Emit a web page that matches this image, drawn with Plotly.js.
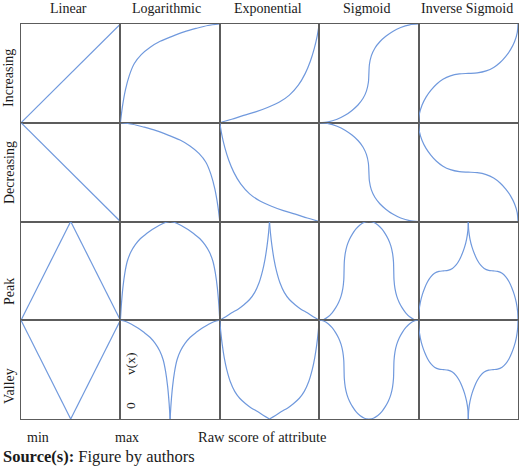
<!DOCTYPE html>
<html>
<head>
<meta charset="utf-8">
<script src="https://cdn.plot.ly/plotly-3.0.1.min.js"></script>
<style>html,body{margin:0;padding:0;background:#fff;}#chart{width:520px;height:469px;}</style>
</head>
<body>
<div id="chart"></div>
<script>
// Column (curve type) and row (direction) labels
const columnLabels = ["Linear", "Logarithmic", "Exponential", "Sigmoid", "Inverse Sigmoid"];
const rowLabels = ["Increasing", "Decreasing", "Peak", "Valley"];

// Base "increasing" shapes (normalised 0..1 within a cell)
const linearX = [0, 1];
const linearY = [0, 1];
const logX = [0, 0.02, 0.05, 0.09, 0.14, 0.21, 0.3, 0.4, 0.52, 0.64, 0.76, 0.88, 1];
const logY = [0, 0.16, 0.33, 0.48, 0.6, 0.69, 0.765, 0.825, 0.875, 0.92, 0.955, 0.985, 1];
const expX = [0, 0.12, 0.24, 0.36, 0.48, 0.6, 0.7, 0.79, 0.86, 0.91, 0.95, 0.98, 1];
const expY = [0, 0.035, 0.075, 0.11, 0.155, 0.21, 0.28, 0.38, 0.5, 0.62, 0.75, 0.88, 1];
const sigX = [0, 0.09, 0.18, 0.26, 0.33, 0.39, 0.44, 0.475, 0.495, 0.5, 0.505, 0.525, 0.56, 0.61, 0.67, 0.74, 0.82, 0.91, 1];
const sigY = [0, 0.008, 0.035, 0.075, 0.125, 0.18, 0.245, 0.32, 0.41, 0.5, 0.59, 0.68, 0.755, 0.82, 0.875, 0.925, 0.965, 0.992, 1];
const invSigX = [0, 0.008, 0.035, 0.075, 0.125, 0.18, 0.245, 0.32, 0.41, 0.5, 0.59, 0.68, 0.755, 0.82, 0.875, 0.925, 0.965, 0.992, 1];
const invSigY = [0, 0.09, 0.18, 0.26, 0.33, 0.39, 0.44, 0.475, 0.495, 0.5, 0.505, 0.525, 0.56, 0.61, 0.67, 0.74, 0.82, 0.91, 1];

const shapes = [[linearX, linearY], [logX, logY], [expX, expY], [sigX, sigY], [invSigX, invSigY]];

const bottomLabels = ["min", "max", "Raw score of attribute"];
const axisNote = ["v(x)", "0"];
const sourceBold = "Source(s):";
const sourceText = " Figure by authors";

const LINE = "#7099dd";
const BORDER = "#5c5c5c";
const FONT = "Liberation Serif";

const W = 520, H = 469;
const M = {l: 21, r: 2, t: 24, b: 50};
const pw = W - M.l - M.r, ph = H - M.t - M.b;
const px = x => (x - M.l) / pw;
const py = y => (H - M.b - y) / ph;

const traces = [];
const layout = {
  width: W, height: H,
  margin: M,
  paper_bgcolor: "#fff", plot_bgcolor: "#fff",
  showlegend: false,
  grid: {rows: 4, columns: 5, pattern: "independent", xgap: 0, ygap: 0, roworder: "top to bottom"},
  font: {family: FONT, size: 14, color: "#1a1a1a"},
  annotations: []
};

function addLine(k, xs, ys) {
  const id = k === 1 ? "" : String(k);
  traces.push({
    type: "scatter", mode: "lines", x: xs, y: ys,
    xaxis: "x" + id, yaxis: "y" + id,
    line: {color: LINE, width: 1.2, shape: xs.length > 2 ? "spline" : "linear", smoothing: 0.8},
    cliponaxis: false, hoverinfo: "skip"
  });
}

for (let r = 0; r < 4; r++) {
  for (let c = 0; c < 5; c++) {
    const k = r * 5 + c + 1;
    const [bx, by] = shapes[c];
    if (r === 0) {
      addLine(k, bx, by);
    } else if (r === 1) {
      addLine(k, bx.map(v => 1 - v), by);
    } else if (r === 2) {
      addLine(k, bx.map(v => v / 2), by);
      addLine(k, bx.map(v => 1 - v / 2), by);
    } else {
      addLine(k, bx.map(v => 0.5 - v / 2), by);
      addLine(k, bx.map(v => 0.5 + v / 2), by);
    }
    const ax = {
      range: [0, 1], showline: true, mirror: true, linecolor: BORDER, linewidth: 1,
      showgrid: false, zeroline: false, showticklabels: false, ticks: "", fixedrange: true
    };
    layout["xaxis" + (k === 1 ? "" : k)] = Object.assign({}, ax);
    layout["yaxis" + (k === 1 ? "" : k)] = Object.assign({}, ax);
  }
}

function ann(text, x, y, size, opts) {
  layout.annotations.push(Object.assign({
    text: text, xref: "paper", yref: "paper", x: px(x), y: py(y),
    xanchor: "center", yanchor: "middle", showarrow: false,
    font: {family: FONT, size: size, color: "#1a1a1a"}
  }, opts || {}));
}

// column titles
const colCenters = [68, 166, 268, 366, 467];
columnLabels.forEach((t, i) => ann(t, colCenters[i], 8, 14));
// row titles
const rowCenters = [78, 173, 292, 386];
rowLabels.forEach((t, i) => ann(t, 9, rowCenters[i], 14, {textangle: -90}));
// v(x) and 0 in valley / log cell
ann(axisNote[0], 130, 364, 13.5, {textangle: -90});
ann(axisNote[1], 130, 406, 13.5, {textangle: -90});
// bottom labels
const bottomX = [38, 127, 262];
bottomLabels.forEach((t, i) => ann(t, bottomX[i], 437, i === 2 ? 14.5 : 14));
ann("<b>" + sourceBold + "</b>" + sourceText, 1, 456, 16.5, {xanchor: "left"});

Plotly.newPlot("chart", traces, layout, {displayModeBar: false, staticPlot: true});
</script>
</body>
</html>
